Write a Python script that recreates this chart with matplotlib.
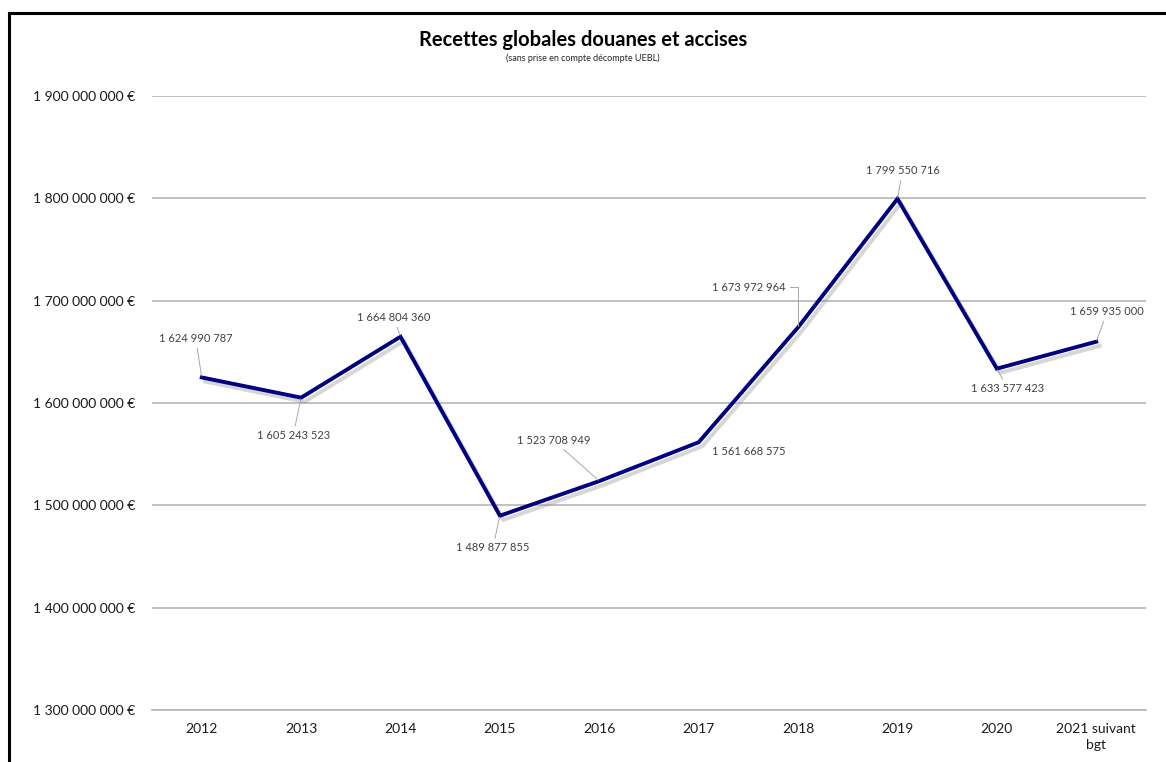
import matplotlib
matplotlib.use("Agg")
import matplotlib.pyplot as plt
import matplotlib.patheffects as pe

plt.rcParams['font.family'] = ['Lato', 'DejaVu Sans']

# Data
years = ['2012', '2013', '2014', '2015', '2016', '2017', '2018', '2019', '2020', '2021 suivant\nbgt']
recettes = [1624990787, 1605243523, 1664804360, 1489877855, 1523708949,
            1561668575, 1673972964, 1799550716, 1633577423, 1659935000]
yticks = [1.3e9, 1.4e9, 1.5e9, 1.6e9, 1.7e9, 1.8e9, 1.9e9]

# label offsets from the point, in pixels (dx, dy), and whether a leader line is drawn
label_offsets = [(-6, 39), (-8, -38), (-7, 19), (-7, -32), (-46, 41),
                 (50, -9), (-49, 40), (5, 28), (11, -20), (11, 30)]
leaders = [True, True, True, True, True, False, True, True, True, True]


def fmt_num(v):
    return f'{v:,.0f}'.replace(',', ' ')


W, H = 1166, 762
fig = plt.figure(figsize=(W / 100, H / 100), dpi=100)

# frame: an empty axes whose left and top spines are the black border
frame = fig.add_axes([9 / W, -0.2, 1.2, 1.2 - 13 / H])
frame.set_xticks([])
frame.set_yticks([])
frame.patch.set_visible(False)
for s in ['bottom', 'right']:
    frame.spines[s].set_visible(False)
for s in ['top', 'left']:
    frame.spines[s].set_color('black')
    frame.spines[s].set_linewidth(2.2)

ax = fig.add_axes([0.1304, 0.0682, 0.8524, 0.8058])

x = list(range(len(years)))
ax.plot(x, recettes, color='#000080', linewidth=2.8, solid_joinstyle='miter',
        path_effects=[pe.SimpleLineShadow(offset=(2.5, -3), shadow_color='#8c8c8c', alpha=0.35),
                      pe.Normal()], zorder=3)

for i, v in enumerate(recettes):
    dx, dy = label_offsets[i]
    props = None
    if leaders[i]:
        props = dict(arrowstyle='-', color='#a6a6a6', lw=0.7, shrinkA=1, shrinkB=1)
        if i == 6:
            props['connectionstyle'] = 'angle,angleA=0,angleB=90,rad=0'
    ax.annotate(fmt_num(v), xy=(i, v), xytext=(dx, dy), textcoords='offset pixels',
                ha='center', va='center', fontsize=8, color='#404040',
                arrowprops=props, zorder=4)

ax.set_xlim(-0.5, len(years) - 0.5)
ax.set_ylim(1.3e9, 1.9e9)
ax.set_xticks(x)
ax.set_xticklabels(years, fontsize=10, color='#1a1a1a', linespacing=1.45)
ax.set_yticks(yticks)
ax.set_yticklabels([fmt_num(t) + ' €' for t in yticks], fontsize=10, color='#1a1a1a')
ax.tick_params(axis='both', length=0)
ax.tick_params(axis='y', pad=12)
ax.tick_params(axis='x', pad=9)
ax.grid(axis='y', color='#b5b5b5', linewidth=1.2)
ax.set_axisbelow(True)
for s in ['top', 'right', 'left']:
    ax.spines[s].set_visible(False)
ax.spines['bottom'].set_color('#b5b5b5')
ax.spines['bottom'].set_linewidth(1.2)

fig.text(0.5, 0.9475, 'Recettes globales douanes et accises', ha='center', va='center',
         fontsize=14.5, fontweight='bold', color='black')
fig.text(0.5, 0.924, '(sans prise en compte décompte UEBL)', ha='center', va='center',
         fontsize=6.5, color='#262626')

fig.savefig('out.png', dpi=100, facecolor='white')
